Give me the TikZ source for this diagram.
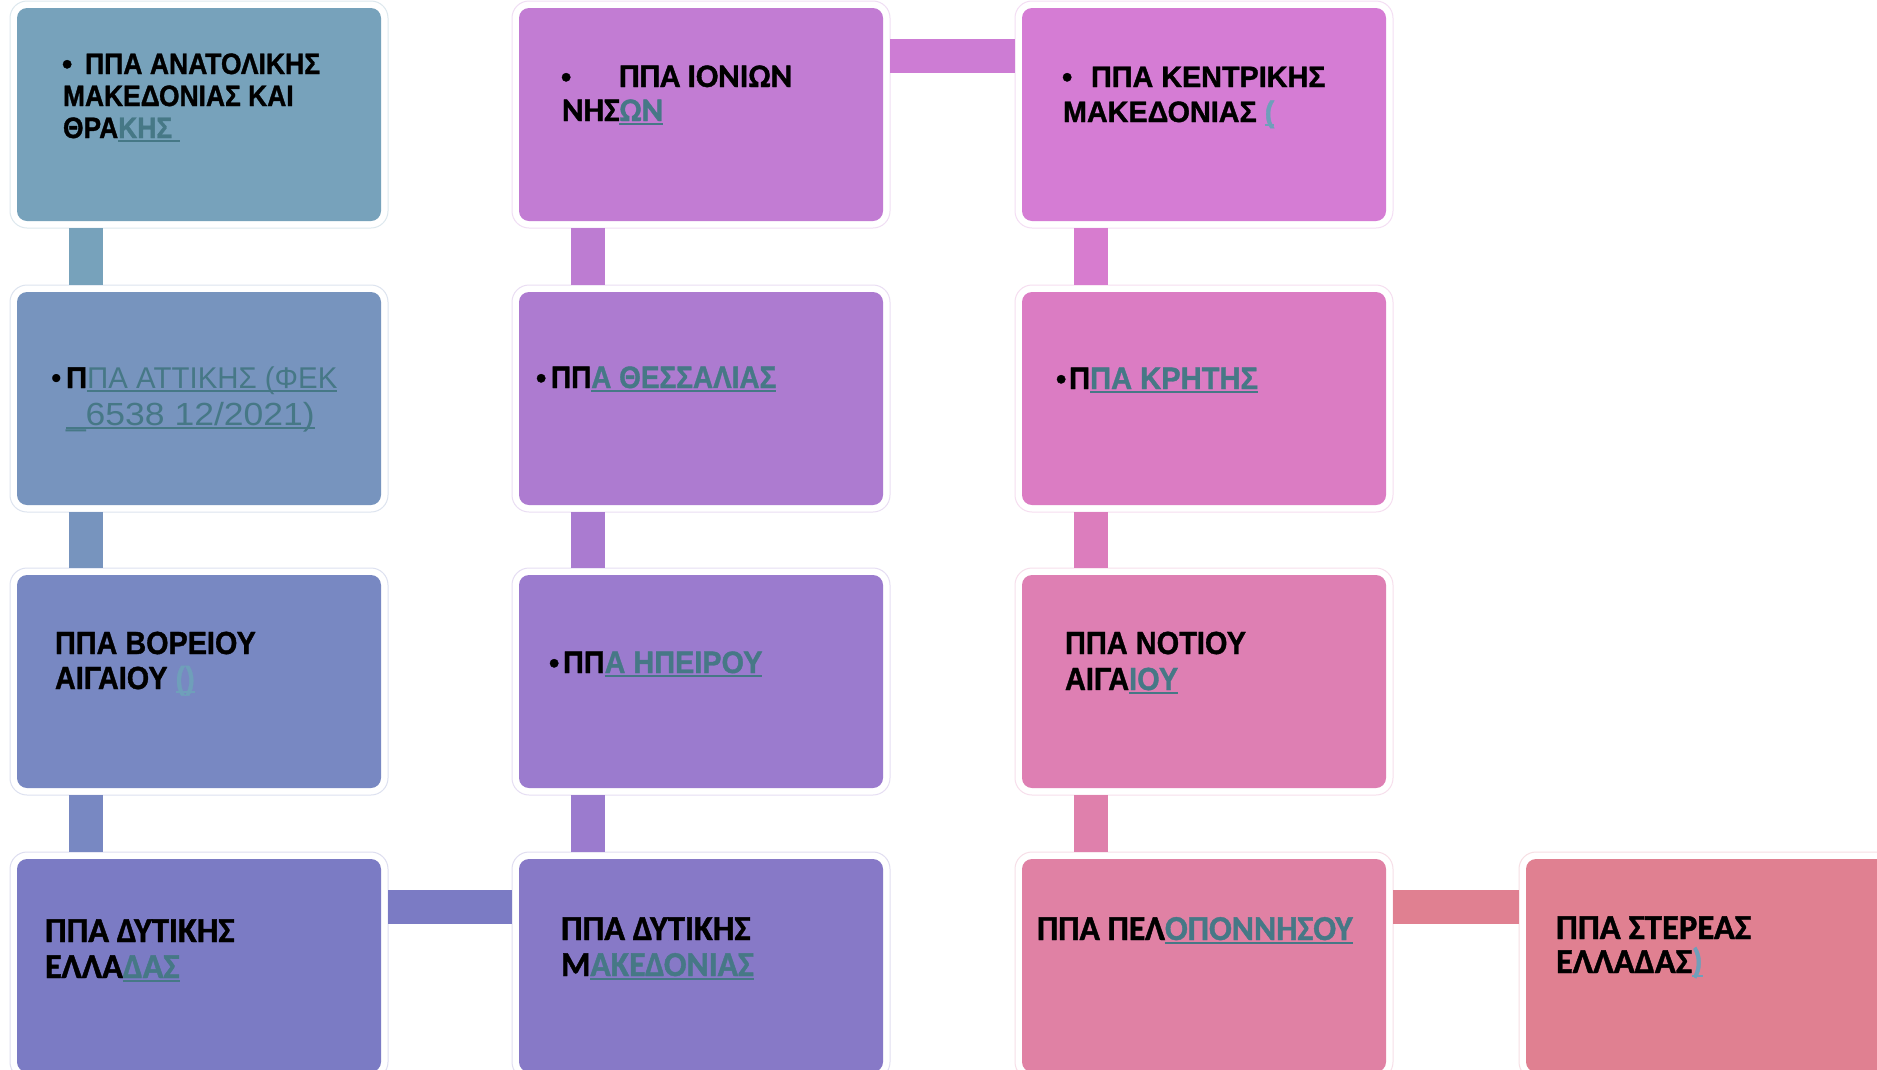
\documentclass[tikz,border=0pt]{standalone}
\usepackage{fontspec}
\setmainfont{Liberation Sans}[BoldFont={Liberation Sans Bold}, BoldFeatures={FakeBold=1.2}]
\newfontfamily\fcal{Carlito}[BoldFont={Carlito Bold}, BoldFeatures={FakeBold=1.2}]
\definecolor{lnk}{HTML}{467886}
\definecolor{lnkL}{HTML}{6F9FBA}
\definecolor{c1}{HTML}{77A2BB}
\definecolor{c2}{HTML}{7794BE}
\definecolor{c3}{HTML}{7888C2}
\definecolor{c4}{HTML}{7B7BC4}
\definecolor{c5}{HTML}{8779C7}
\definecolor{c6}{HTML}{9B7BCE}
\definecolor{c7}{HTML}{AD7BD0}
\definecolor{c8}{HTML}{C27CD3}
\definecolor{c9}{HTML}{D57CD4}
\definecolor{c10}{HTML}{DB7CC3}
\definecolor{c11}{HTML}{DE7FB3}
\definecolor{c12}{HTML}{E081A4}
\definecolor{c13}{HTML}{E08091}
\newsavebox\ulbx
\newcommand\myul[1]{\sbox\ulbx{#1}\rlap{\rule[-3.8pt]{\wd\ulbx}{1.8pt}}\usebox\ulbx}
\newcommand\lnk[1]{\textcolor{lnk}{\myul{#1}}}
\newcommand\lnkL[1]{\textcolor{lnkL}{\myul{#1}}}
\newcommand\sq[2]{\scalebox{#1}[1]{#2}}
\tikzset{
  halo/.style={draw=#1!25!white, fill=white, line width=1pt, rounded corners=17pt,
    minimum width=378pt, minimum height=227pt, inner sep=0pt, outer sep=0pt},
  box/.style={fill=#1, draw=none, rounded corners=10pt,
    minimum width=364pt, minimum height=213pt, inner sep=0pt, outer sep=0pt},
  conn/.style={line width=34pt, line cap=butt},
  txt/.style={anchor=base west, inner sep=0pt, outer sep=0pt, text=black},
  tA/.style={txt, font=\bfseries\fontsize{29.5pt}{34pt}\selectfont},
  tB/.style={txt, font=\bfseries\fontsize{32pt}{36pt}\selectfont},
  tR/.style={txt, font=\fontsize{30pt}{34pt}\selectfont},
  tC/.style={txt, font=\fcal\bfseries\fontsize{35pt}{38pt}\selectfont},
}
\begin{document}
\begin{tikzpicture}[x=1pt,y=-1pt]
\clip (0,0) rectangle (1877,1069);
\fill[white] (0,0) rectangle (1877,1069);
% halos
\node[halo=c1]  (h1)  at (199,114.5) {};
\node[halo=c2]  (h2)  at (199,398.5) {};
\node[halo=c3]  (h3)  at (199,681.5) {};
\node[halo=c4]  (h4)  at (199,965.5) {};
\node[halo=c5]  (h5)  at (701,965.5) {};
\node[halo=c6]  (h6)  at (701,681.5) {};
\node[halo=c7]  (h7)  at (701,398.5) {};
\node[halo=c8]  (h8)  at (701,114.5) {};
\node[halo=c9]  (h9)  at (1204,114.5) {};
\node[halo=c10] (h10) at (1204,398.5) {};
\node[halo=c11] (h11) at (1204,681.5) {};
\node[halo=c12] (h12) at (1204,965.5) {};
\node[halo=c13] (h13) at (1708,965.5) {};
% connectors
\draw[conn, c1] ([xshift=76pt]h1.south west) -- ([xshift=76pt]h2.north west);
\draw[conn, c2] ([xshift=76pt]h2.south west) -- ([xshift=76pt]h3.north west);
\draw[conn, c3] ([xshift=76pt]h3.south west) -- ([xshift=76pt]h4.north west);
\draw[conn, c4] ([yshift=-55pt]h4.north east) -- ([yshift=-55pt]h5.north west);
\draw[conn, c6] ([xshift=76pt]h5.north west) -- ([xshift=76pt]h6.south west);
\draw[conn, c7!85!c6] ([xshift=76pt]h6.north west) -- ([xshift=76pt]h7.south west);
\draw[conn, c8!75!c7] ([xshift=76pt]h7.north west) -- ([xshift=76pt]h8.south west);
\draw[conn, c9!60!c8] ([yshift=-55pt]h8.north east) -- ([yshift=-55pt]h9.north west);
\draw[conn, c9!70!c10] ([xshift=76pt]h9.south west) -- ([xshift=76pt]h10.north west);
\draw[conn, c10!60!c11] ([xshift=76pt]h10.south west) -- ([xshift=76pt]h11.north west);
\draw[conn, c11!50!c12] ([xshift=76pt]h11.south west) -- ([xshift=76pt]h12.north west);
\draw[conn, c13] ([yshift=-55pt]h12.north east) -- ([yshift=-55pt]h13.north west);
% boxes
\node[box=c1]  (n1)  at (199,114.5) {};
\node[box=c2]  (n2)  at (199,398.5) {};
\node[box=c3]  (n3)  at (199,681.5) {};
\node[box=c4]  (n4)  at (199,965.5) {};
\node[box=c5]  (n5)  at (701,965.5) {};
\node[box=c6]  (n6)  at (701,681.5) {};
\node[box=c7]  (n7)  at (701,398.5) {};
\node[box=c8]  (n8)  at (701,114.5) {};
\node[box=c9]  (n9)  at (1204,114.5) {};
\node[box=c10] (n10) at (1204,398.5) {};
\node[box=c11] (n11) at (1204,681.5) {};
\node[box=c12] (n12) at (1204,965.5) {};
\node[box=c13] (n13) at (1708,965.5) {};
% texts
\node[tA] (b1) at (62,74) {•};
\node[tA] (t1a) at (85,74) {\sq{.90}{ΠΠΑ ΑΝΑΤΟΛΙΚΗΣ}};
\node[tA] (t1b) at (63,106) {\sq{.895}{ΜΑΚΕΔΟΝΙΑΣ ΚΑΙ}};
\node[tA] (t1c) at (63,138) {\sq{.895}{ΘΡΑ\lnk{ΚΗΣ\ }}};
\node[tR] (b2) at (51,388) {•};
\node[tR] (t2a) at (66,388) {\sq{.98}{\textbf{Π}\lnk{ΠΑ ΑΤΤΙΚΗΣ (ΦΕΚ}}};
\node[tR, font=\fontsize{32pt}{36pt}\selectfont] (t2b) at (66,425) {\sq{1.11}{\lnk{\_6538 12/2021)}}};
\node[tB] (t3a) at (55,654) {\sq{.90}{ΠΠΑ ΒΟΡΕΙΟΥ}};
\node[tB] (t3b) at (55,689) {\sq{.90}{ΑΙΓΑΙΟΥ \lnkL{()}}};
\node[tC] (t4a) at (45,942) {\sq{.98}{ΠΠΑ ΔΥΤΙΚΗΣ}};
\node[tC] (t4b) at (45,978) {\sq{.98}{ΕΛΛΑ\lnk{ΔΑΣ}}};
\node[tC] (t5a) at (561,940) {\sq{.98}{ΠΠΑ ΔΥΤΙΚΗΣ}};
\node[tC] (t5b) at (561,976) {\sq{.96}{Μ\lnk{ΑΚΕΔΟΝΙΑΣ}}};
\node[tA] (b6) at (549,673) {•};
\node[tB, font=\bfseries\fontsize{31pt}{36pt}\selectfont] (t6) at (563,673) {\sq{.93}{ΠΠ\lnk{Α ΗΠΕΙΡΟΥ}}};
\node[tA] (b7) at (536,388) {•};
\node[tB, font=\bfseries\fontsize{31pt}{36pt}\selectfont] (t7) at (551,388) {\sq{.90}{ΠΠ\lnk{Α ΘΕΣΣΑΛΙΑΣ}}};
\node[tA] (b8) at (561,87) {•};
\node[tC, font=\fcal\bfseries\fontsize{33pt}{38pt}\selectfont] (t8a) at (619,87) {\sq{.99}{ΠΠΑ ΙΟΝΙΩΝ}};
\node[tC, font=\fcal\bfseries\fontsize{33pt}{38pt}\selectfont] (t8b) at (562,121) {\sq{.99}{ΝΗΣ\lnk{ΩΝ}}};
\node[tA] (b9) at (1062,87) {•};
\node[tA] (t9a) at (1091,87) {\sq{.975}{ΠΠΑ ΚΕΝΤΡΙΚΗΣ}};
\node[tA] (t9b) at (1063,122) {\sq{.975}{ΜΑΚΕΔΟΝΙΑΣ \lnkL{(}}};
\node[tA] (b10) at (1056,389) {•};
\node[tB, font=\bfseries\fontsize{31pt}{36pt}\selectfont] (t10) at (1069,389) {\sq{.94}{Π\lnk{ΠΑ ΚΡΗΤΗΣ}}};
\node[tB] (t11a) at (1065,654) {\sq{.905}{ΠΠΑ ΝΟΤΙΟΥ}};
\node[tB] (t11b) at (1065,690) {\sq{.905}{ΑΙΓΑ\lnk{ΙΟΥ}}};
\node[tC] (t12) at (1037,940) {\sq{.963}{ΠΠΑ ΠΕΛ\lnk{ΟΠΟΝΝΗΣΟΥ}}};
\node[tC] (t13a) at (1556,939) {\sq{.99}{ΠΠΑ ΣΤΕΡΕΑΣ}};
\node[tC] (t13b) at (1556,973) {\sq{.99}{ΕΛΛΑΔΑΣ\lnkL{)}}};
\end{tikzpicture}
\end{document}
